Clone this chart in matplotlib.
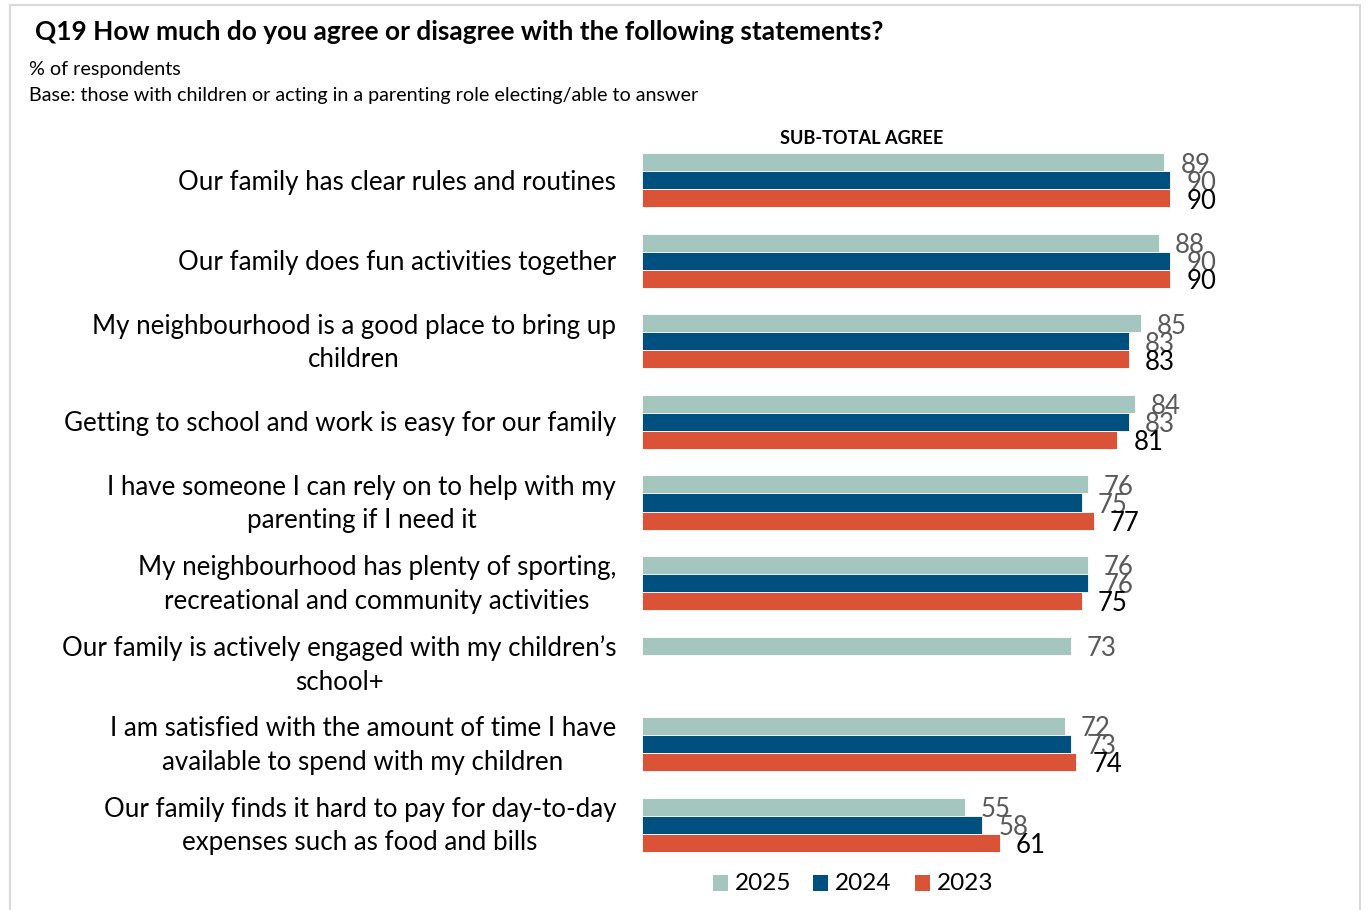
import matplotlib
matplotlib.use("Agg")
import matplotlib.pyplot as plt
from matplotlib.patches import Rectangle
import numpy as np

categories = [
    "Our family has clear rules and routines",
    "Our family does fun activities together",
    "My neighbourhood is a good place to bring up\nchildren",
    "Getting to school and work is easy for our family",
    "I have someone I can rely on to help with my\nparenting if I need it",
    "My neighbourhood has plenty of sporting,\nrecreational and community activities",
    "Our family is actively engaged with my children\u2019s\nschool+",
    "I am satisfied with the amount of time I have\navailable to spend with my children",
    "Our family finds it hard to pay for day-to-day\nexpenses such as food and bills",
]
years = ["2025", "2024", "2023"]
v2025 = [89, 88, 85, 84, 76, 76, 73, 72, 55]
v2024 = [90, 90, 83, 83, 75, 76, None, 73, 58]
v2023 = [90, 90, 83, 81, 77, 75, None, 74, 61]
series = [v2025, v2024, v2023]

colors = ["#A5C6BF", "#00507F", "#DA5336"]
label_colors = ["#595959", "#595959", "#000000"]
FONT = "Lato"

W, H = 1367, 910
fig = plt.figure(figsize=(W / 100, H / 100), dpi=100)

def fx(px):
    return px / W

def fy(py):
    return 1 - py / H

# frame
fig.patches.append(Rectangle((fx(10), fy(930)), fx(1350), 925 / H, transform=fig.transFigure,
                             fill=False, edgecolor="#D9D9D9", linewidth=1.5))

# axes: x 0..100 maps 642..1229 px; y rows at 180.5 + 80.5*i
ax = fig.add_axes([fx(642), fy(865), fx(587), 725 / H])
ax.set_xlim(0, 100)
ax.set_ylim(8.503, -0.503)
ax.axis("off")

bh = 18 / 80.5
offsets = [-bh, 0, bh]
y = np.arange(len(categories))
for s, (vals, col, lc, off) in enumerate(zip(series, colors, label_colors, offsets)):
    for i, v in enumerate(vals):
        if v is None:
            continue
        ax.barh(y[i] + off, v, height=bh, color=col, edgecolor="white", linewidth=0.6)
        ax.text(v + 2.7, y[i] + off + 0.035, f"{v}", ha="left", va="center", color=lc,
                fontsize=18.5, family=FONT, clip_on=False)

for i, c in enumerate(categories):
    ax.text(-4.4, y[i] + 0.02, c, ha="right", va="center",
            multialignment="center", fontsize=18.6, family=FONT, color="#000000",
            linespacing=1.43, clip_on=False)

fig.text(fx(35), fy(32), "Q19 How much do you agree or disagree with the following statements?",
         ha="left", va="center", fontsize=18.9, fontweight="bold", family=FONT)
fig.text(fx(29), fy(69), "% of respondents", ha="left", va="center", fontsize=14.2, family=FONT)
fig.text(fx(29), fy(95), "Base: those with children or acting in a parenting role electing/able to answer",
         ha="left", va="center", fontsize=14.2, family=FONT)
fig.text(fx(862), fy(139), "SUB-TOTAL AGREE", ha="center", va="center", fontsize=13.1,
         fontweight="bold", family=FONT)

# legend
leg_x = [713, 813, 915]
for lx, col, yr in zip(leg_x, colors, years):
    fig.patches.append(Rectangle((fx(lx), fy(891)), fx(15), 16 / H, transform=fig.transFigure,
                                 facecolor=col, edgecolor="none"))
    fig.text(fx(lx + 22), fy(883), yr, ha="left", va="center", fontsize=17.5, family=FONT)

fig.savefig("out.png", dpi=100)
